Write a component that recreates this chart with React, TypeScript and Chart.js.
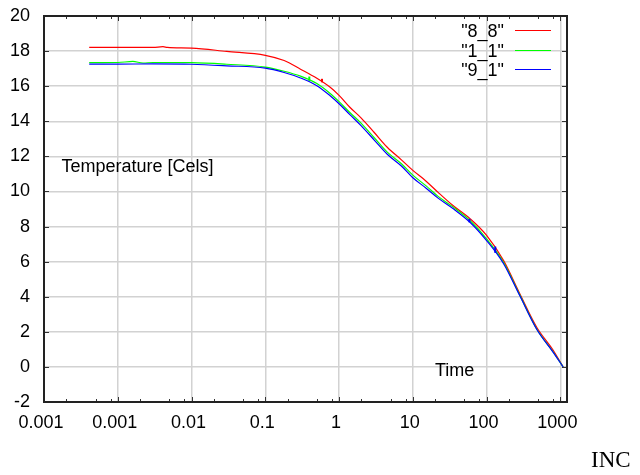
import React, { useEffect, useRef } from "react";
import { Chart, registerables } from "chart.js";

Chart.register(...registerables);

// ---- data ----
const xTickValues = [0.0001, 0.001, 0.01, 0.1, 1, 10, 100, 1000];
const xTickLabels = ["0.001", "0.001", "0.01", "0.1", "1", "10", "100", "1000"];
const xMinorFactors = [2, 5, 8];
const yTickValues = [-2, 0, 2, 4, 6, 8, 10, 12, 14, 16, 18, 20];

const seriesLabels = ['"8_8"', '"1_1"', '"9_1"'];
const seriesColors = ["#ff0000", "#00ff00", "#0000ff"];

const redTimes = [0.00041, 0.001, 0.003, 0.0041, 0.0047, 0.01, 0.03, 0.1, 0.18, 0.3, 0.5, 0.75, 1, 1.4, 2, 3, 4.5, 7, 10, 15, 22, 35, 60, 100, 170, 280, 480, 800, 1090];
const redTemps = [18.21, 18.21, 18.21, 18.25, 18.21, 18.17, 17.98, 17.76, 17.46, 16.97, 16.45, 15.95, 15.48, 14.8, 14.18, 13.36, 12.52, 11.8, 11.2, 10.6, 9.95, 9.2, 8.44, 7.5, 6.06, 4.2, 2.25, 0.95, 0];

const greenTimes = [0.00041, 0.001, 0.0016, 0.0022, 0.003, 0.01, 0.03, 0.1, 0.18, 0.3, 0.5, 0.75, 1, 1.4, 2, 3, 4.5, 7, 10, 15, 22, 35, 60, 100, 170, 280, 480, 800, 1090];
const greenTemps = [17.34, 17.35, 17.41, 17.32, 17.35, 17.34, 17.25, 17.09, 16.85, 16.57, 16.15, 15.6, 15.12, 14.5, 13.88, 13.06, 12.24, 11.58, 10.93, 10.33, 9.72, 9.12, 8.33, 7.3, 5.95, 4.12, 2.15, 0.85, 0];

const blueTimes = [0.00041, 0.001, 0.003, 0.01, 0.03, 0.1, 0.18, 0.3, 0.5, 0.75, 1, 1.4, 2, 3, 4.5, 7, 10, 15, 22, 35, 60, 100, 170, 280, 480, 800, 1090];
const blueTemps = [17.26, 17.26, 17.27, 17.25, 17.16, 17.03, 16.78, 16.47, 16.03, 15.47, 15.0, 14.38, 13.74, 12.93, 12.12, 11.45, 10.78, 10.2, 9.62, 9.03, 8.23, 7.2, 5.88, 4.08, 2.13, 0.83, 0];

// short glitches in the recorded data (vertical jumps)
const redGlitchTimes = [0.587, 0.587];
const redGlitchTemps = [16.22, 16.42];
const greenGlitchTimes = [0.395, 0.395];
const greenGlitchTemps = [16.3, 16.55];
const blueGlitchATimes = [58.5, 58.5];
const blueGlitchATemps = [8.24, 8.44];
const blueGlitchBTimes = [131, 131];
const blueGlitchBTemps = [6.5, 6.86];

const yAxisTitle = "Temperature [Cels]";
const xAxisTitle = "Time";
const cornerText = "INC";

const FONT = "'Liberation Sans', Arial, Helvetica, sans-serif";

const overlayPlugin = {
  id: "gnuplotOverlay",
  afterDraw(chart: any) {
    const ctx = chart.ctx as CanvasRenderingContext2D;
    const { left, right, top, bottom } = chart.chartArea;
    const xs = chart.scales.x;
    const ys = chart.scales.y;
    ctx.save();

    // tick marks (inward, mirrored)
    ctx.strokeStyle = "#333";
    ctx.lineWidth = 1;
    ctx.beginPath();
    for (const v of xTickValues) {
      const px = Math.round(xs.getPixelForValue(v)) + 0.5;
      ctx.moveTo(px, bottom);
      ctx.lineTo(px, bottom - 5);
      ctx.moveTo(px, top);
      ctx.lineTo(px, top + 5);
      for (const f of xMinorFactors) {
        const mv = v * f;
        if (mv > xs.max) continue;
        const mx = Math.round(xs.getPixelForValue(mv)) + 0.5;
        ctx.moveTo(mx, bottom);
        ctx.lineTo(mx, bottom - 3);
        ctx.moveTo(mx, top);
        ctx.lineTo(mx, top + 3);
      }
    }
    for (const v of yTickValues) {
      const py = Math.round(ys.getPixelForValue(v)) + 0.5;
      ctx.moveTo(left, py);
      ctx.lineTo(left + 5, py);
      ctx.moveTo(right, py);
      ctx.lineTo(right - 5, py);
    }
    ctx.stroke();

    // border
    ctx.strokeStyle = "#222";
    ctx.lineWidth = 2;
    ctx.strokeRect(left, top, right - left, bottom - top);

    // texts
    ctx.fillStyle = "#000";
    ctx.font = `18px ${FONT}`;
    ctx.textBaseline = "alphabetic";
    ctx.textAlign = "left";
    ctx.fillText(yAxisTitle, 61.5, 171.5);
    ctx.fillText(xAxisTitle, 435, 376);

    // legend (main series only)
    const baselines = [37.3, 56.5, 75.8];
    chart.data.datasets.slice(0, 3).forEach((ds: any, i: number) => {
      ctx.textAlign = "right";
      ctx.fillStyle = "#000";
      ctx.fillText(ds.label, 504, baselines[i]);
      ctx.strokeStyle = ds.borderColor;
      ctx.lineWidth = 1;
      ctx.beginPath();
      const ly = Math.round(baselines[i] - 7) + 0.5;
      ctx.moveTo(515, ly);
      ctx.lineTo(551, ly);
      ctx.stroke();
    });

    // corner text
    ctx.textAlign = "left";
    ctx.fillStyle = "#000";
    ctx.font = "23px 'Liberation Serif', 'Times New Roman', serif";
    ctx.fillText(cornerText, 591, 467);

    ctx.restore();
  },
};

function toPoints(times: number[], temps: number[]) {
  return times.map((t, i) => ({ x: t, y: temps[i] }));
}

export default function App() {
  const canvasRef = useRef<HTMLCanvasElement | null>(null);

  useEffect(() => {
    if (!canvasRef.current) return;
    const main = [
      { label: seriesLabels[0], data: toPoints(redTimes, redTemps), borderColor: seriesColors[0], order: 2 },
      { label: seriesLabels[1], data: toPoints(greenTimes, greenTemps), borderColor: seriesColors[1], order: 1 },
      { label: seriesLabels[2], data: toPoints(blueTimes, blueTemps), borderColor: seriesColors[2], order: 0 },
    ].map((d) => ({
      ...d,
      borderWidth: 1.2,
      pointRadius: 0,
      fill: false,
      cubicInterpolationMode: "monotone" as const,
    }));
    const glitches = [
      { label: "g-red", data: toPoints(redGlitchTimes, redGlitchTemps), borderColor: seriesColors[0], order: 2 },
      { label: "g-green", data: toPoints(greenGlitchTimes, greenGlitchTemps), borderColor: seriesColors[1], order: 1 },
      { label: "g-blue-a", data: toPoints(blueGlitchATimes, blueGlitchATemps), borderColor: seriesColors[2], order: 0 },
      { label: "g-blue-b", data: toPoints(blueGlitchBTimes, blueGlitchBTemps), borderColor: seriesColors[2], order: 0 },
    ].map((d) => ({ ...d, borderWidth: 2, pointRadius: 0, fill: false, tension: 0 }));

    const chart = new Chart(canvasRef.current, {
      type: "line",
      data: { datasets: [...main, ...glitches] },
      options: {
        responsive: false,
        animation: false,
        events: [],
        layout: { padding: { top: 16, right: 73, left: 0, bottom: 0 } },
        plugins: { legend: { display: false }, tooltip: { enabled: false } },
        scales: {
          x: {
            type: "logarithmic",
            min: 0.0001,
            max: 1230,
            afterBuildTicks: (scale: any) => {
              scale.ticks = xTickValues.map((v) => ({ value: v }));
            },
            afterFit: (scale: any) => {
              scale.height = 73;
              scale.paddingLeft = 0;
              scale.paddingRight = 0;
            },
            grid: { color: "#d2d2d2", lineWidth: 1.5, drawTicks: false },
            border: { display: false },
            ticks: {
              autoSkip: false,
              maxRotation: 0,
              padding: 10,
              labelOffset: -3,
              color: "#000",
              font: { family: FONT, size: 18 },
              callback: (_v: any, i: number) => xTickLabels[i],
            },
          },
          y: {
            type: "linear",
            min: -2,
            max: 20,
            afterBuildTicks: (scale: any) => {
              scale.ticks = yTickValues.map((v) => ({ value: v }));
            },
            afterFit: (scale: any) => {
              scale.width = 44;
              scale.paddingTop = 0;
              scale.paddingBottom = 0;
            },
            grid: { color: "#d2d2d2", lineWidth: 1.5, drawTicks: false },
            border: { display: false },
            ticks: {
              padding: 14,
              color: "#000",
              font: { family: FONT, size: 18 },
              callback: (v: any) => String(v),
            },
          },
        },
      },
      plugins: [overlayPlugin],
    });
    return () => chart.destroy();
  }, []);

  return (
    <div style={{ position: "absolute", left: 0, top: 0, width: 640, height: 475, background: "#fff" }}>
      <canvas ref={canvasRef} width={640} height={475} style={{ display: "block", width: 640, height: 475 }} />
    </div>
  );
}
